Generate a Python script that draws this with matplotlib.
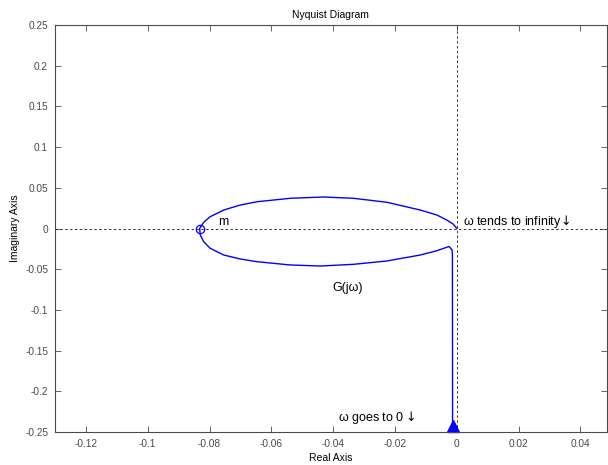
import matplotlib
matplotlib.use("Agg")
import matplotlib.pyplot as plt
from matplotlib.ticker import FormatStrFormatter

# Nyquist curve, from omega = 0 (bottom) to omega -> inf (origin)
re_vals = [-0.00136, -0.00142, -0.00142, -0.00152, -0.0025, -0.00646, -0.01186,
           -0.0226, -0.0334, -0.0442, -0.0539, -0.0646, -0.0700, -0.0754,
           -0.0798, -0.0819, -0.0830, -0.0832, -0.0819, -0.0798, -0.0754,
           -0.0700, -0.0646, -0.0539, -0.0431, -0.0334, -0.0226, -0.01186,
           -0.00646, -0.00323, -0.0011, 0.0]
im_vals = [-0.25, -0.0469, -0.0326, -0.0264, -0.0221, -0.0273, -0.0326,
           -0.0399, -0.0440, -0.0461, -0.0448, -0.0408, -0.0375, -0.0326,
           -0.0243, -0.0162, -0.0080, 0.0, 0.0076, 0.0145, 0.0227,
           0.0289, 0.0329, 0.0371, 0.0387, 0.0371, 0.0322, 0.0227,
           0.0166, 0.0104, 0.0052, 0.0]

crossing = (-0.0832, 0.0)       # point m on the real axis
start_arrow = (-0.0013, -0.2432)

x_ticks = [-0.12, -0.1, -0.08, -0.06, -0.04, -0.02, 0, 0.02, 0.04]
y_ticks = [-0.25, -0.2, -0.15, -0.1, -0.05, 0, 0.05, 0.1, 0.15, 0.2, 0.25]

plt.rcParams['font.family'] = ['Liberation Sans', 'DejaVu Sans']
plt.rcParams['mathtext.fontset'] = 'dejavusans'
plt.rcParams['axes.unicode_minus'] = False

fig = plt.figure(figsize=(6.08, 4.65), dpi=100)
ax = fig.add_axes([55 / 608, 33 / 465, (606.7 - 55) / 608, (432 - 25) / 465])

grey = '#4a4a4a'
ax.axhline(0, color='#333333', lw=0.7, ls=(0, (2.5, 2.5)))
ax.axvline(0, color='#333333', lw=0.7, ls=(0, (2.5, 2.5)))

ax.plot(re_vals, im_vals, color='#0000ff', lw=1.0)
ax.plot(*crossing, marker='o', ms=6, mfc='none', mec='#0000ff', mew=0.9)
ax.plot(*start_arrow, marker='^', ms=9, color='#0000ff', clip_on=False)

ax.text(-0.0771, 0.0043, 'm', fontsize=9, va='baseline')
ax.text(0.0019, 0.0043, r'ω tends to infinity$\!\downarrow$', fontsize=9, va='baseline')
ax.text(-0.0403, -0.0768, 'G(jω)', fontsize=9, va='baseline')
ax.text(-0.0383, -0.2361, r'ω goes to 0$\downarrow$', fontsize=9, va='baseline')

ax.set_xlim(-0.13, 0.0485)
ax.set_ylim(-0.25, 0.25)
ax.set_xticks(x_ticks)
ax.set_yticks(y_ticks)
ax.xaxis.set_major_formatter(FormatStrFormatter('%g'))
ax.yaxis.set_major_formatter(FormatStrFormatter('%g'))
ax.tick_params(direction='in', length=4, width=0.6, top=True, right=True,
               labelsize=7.3, colors=grey, pad=5)
for s in ax.spines.values():
    s.set_color(grey)
    s.set_linewidth(0.8)

ax.set_title('Nyquist Diagram', fontsize=7.5, pad=5)
ax.set_xlabel('Real Axis', fontsize=7.5, labelpad=3)
ax.set_ylabel('Imaginary Axis', fontsize=7.5, labelpad=4)

fig.savefig('out.png', dpi=100)
